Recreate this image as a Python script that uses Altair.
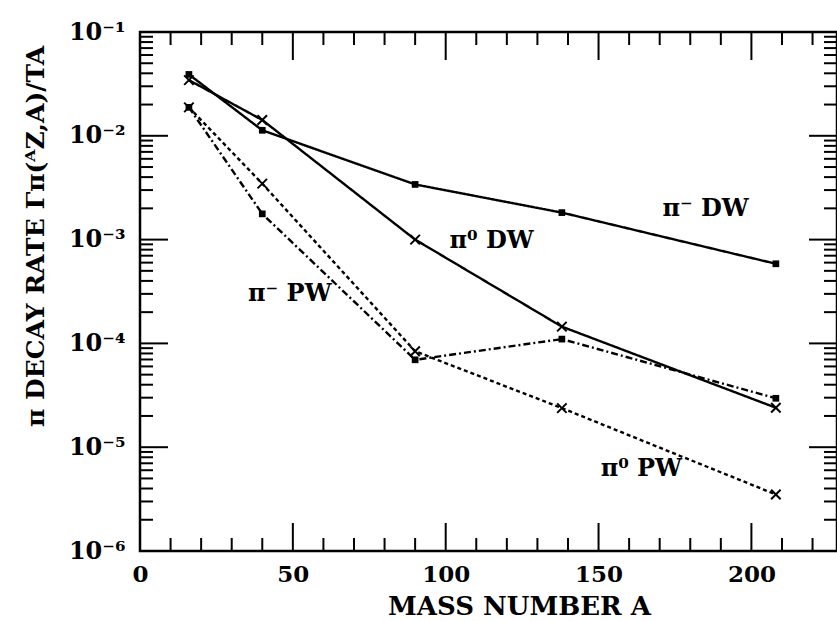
import altair as alt
import pandas as pd

# ---- data ----
mass = [16, 40, 90, 138, 208]
pim_dw = [0.039, 0.0113, 3.4e-3, 1.82e-3, 5.85e-4]
pi0_dw = [0.0344, 0.0142, 1.0e-3, 1.45e-4, 2.4e-5]
pim_pw = [0.0188, 1.77e-3, 6.95e-5, 1.10e-4, 2.96e-5]
pi0_pw = [0.0188, 3.46e-3, 8.4e-5, 2.38e-5, 3.5e-6]

series_names = ["pi- DW", "pi0 DW", "pi- PW", "pi0 PW"]
series_values = [pim_dw, pi0_dw, pim_pw, pi0_pw]
series_marker = ["square", "x", "square", "x"]

x_major = [0, 50, 100, 150, 200]
x_minor = [10, 20, 30, 40, 60, 70, 80, 90, 110, 120, 130, 140,
           160, 170, 180, 190, 210, 220]
y_major = [1e-6, 1e-5, 1e-4, 1e-3, 1e-2, 1e-1]
y_minor = [m * 10.0 ** e for e in range(-6, -1) for m in range(2, 10)]

ann_text = ["π⁻ DW", "π⁰ DW", "π⁻ PW", "π⁰ PW"]
ann_x = [185, 115, 49, 164]
ann_y = [1.95e-3, 9.6e-4, 3.0e-4, 6.2e-6]

# ---- tables ----
rows = []
for name, vals, mk in zip(series_names, series_values, series_marker):
    for m, v in zip(mass, vals):
        rows.append({"mass": m, "rate": v, "series": name, "marker": mk})
df = pd.DataFrame(rows)
ann = pd.DataFrame({"t": ann_text, "mass": ann_x, "rate": ann_y})
xmaj = pd.DataFrame({"mass": x_major})
xmin = pd.DataFrame({"mass": x_minor})
ymaj = pd.DataFrame({"rate": y_major})
ymin = pd.DataFrame({"rate": y_minor})

FONT = "DejaVu Serif"
W, H = 697, 519
XTITLE = "MASS NUMBER A"
YTITLE = "π DECAY RATE Γπ(ᴬZ,A)/TA"
xs = alt.Scale(domain=[0, 228], nice=False, zero=False)
ys = alt.Scale(type="log", domain=[1e-6, 1e-1], nice=False)

xaxis = alt.Axis(values=x_major, ticks=False, domain=False, grid=False,
                 labelFont=FONT, labelFontSize=23, labelFontWeight="bold",
                 labelColor="black", labelPadding=12, labelFlush=False,
                 title=XTITLE, titleFont=FONT, titleFontSize=26,
                 titleFontWeight="bold", titleColor="black",
                 titleX=379, titleY=63, titleBaseline="alphabetic",
                 titleAlign="center")
yaxis = alt.Axis(values=y_major, ticks=False, domain=False, grid=False,
                 labelExpr="'10⁻' + ['⁰','¹','²','³','⁴','⁵','⁶'][round(-log(datum.value)/LN10)]",
                 labelFont=FONT, labelFontSize=24, labelFontWeight="bold",
                 labelColor="black", labelPadding=15, labelFlush=False,
                 title=YTITLE, titleFont=FONT,
                 titleFontSize=25, titleFontWeight="bold", titleColor="black",
                 titleX=-105, titleY=204, titleBaseline="middle",
                 titleAlign="center", titleAngle=-90)

X = alt.X("mass:Q", scale=xs, axis=xaxis, title=XTITLE)
Y = alt.Y("rate:Q", scale=ys, axis=yaxis, title=YTITLE)

base = alt.Chart(df)

lines = base.mark_line(color="black").encode(
    x=X, y=Y,
    detail="series:N",
    strokeDash=alt.StrokeDash("series:N", legend=None,
                              scale=alt.Scale(domain=series_names,
                                              range=[[1, 0], [1, 0], [7, 3, 2, 3], [4, 3]])),
    strokeWidth=alt.StrokeWidth("series:N", legend=None,
                                scale=alt.Scale(domain=series_names,
                                                range=[2.4, 2.4, 1.8, 1.8])),
)

squares = base.transform_filter(alt.datum.marker == "square").mark_point(
    shape="square", filled=True, color="black", size=45, opacity=1
).encode(x=X, y=Y)

crosses = base.transform_filter(alt.datum.marker == "x").mark_point(
    shape="M-1,-1L1,1M-1,1L1,-1", filled=False, color="black", size=90,
    strokeWidth=2, opacity=1
).encode(x=X, y=Y)

labels = alt.Chart(ann).mark_text(
    font=FONT, fontSize=24, fontWeight="bold", color="black"
).encode(x=X, y=Y, text="t:N")


def xticks(d, length):
    bot = alt.Chart(d).mark_rule(color="black", strokeWidth=2).encode(
        x=X, y=alt.value(H), y2=alt.value(H - length))
    top = alt.Chart(d).mark_rule(color="black", strokeWidth=2).encode(
        x=X, y=alt.value(0), y2=alt.value(length))
    return [bot, top]


def yticks(d, length):
    left = alt.Chart(d).mark_rule(color="black", strokeWidth=2).encode(
        y=Y, x=alt.value(0), x2=alt.value(length))
    right = alt.Chart(d).mark_rule(color="black", strokeWidth=2).encode(
        y=Y, x=alt.value(W), x2=alt.value(W - length))
    return [left, right]


tick_layers = xticks(xmaj, 28) + xticks(xmin, 13) + yticks(ymaj, 28) + yticks(ymin, 13)

chart = alt.layer(lines, squares, crosses, labels, *tick_layers).properties(
    width=W, height=H,
    autosize=alt.AutoSizeParams(type="none"),
    padding={"left": 140, "top": 32, "right": 0, "bottom": 69},
    background="white",
).configure_view(stroke="black", strokeWidth=2.5)

chart.save("out.html", embed_options={"renderer": "svg", "actions": False})
